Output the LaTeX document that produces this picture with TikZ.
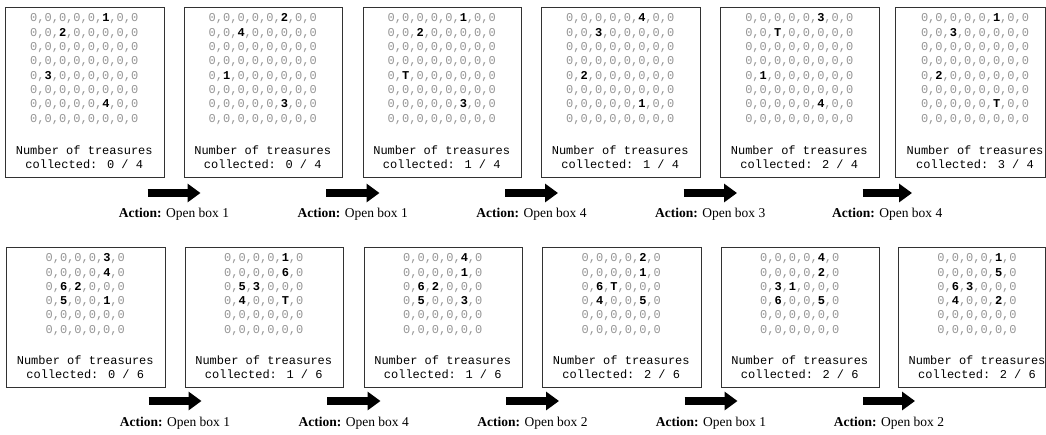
\documentclass[tikz,border=0pt]{standalone}
\usepackage{fontspec}
\setmainfont{Liberation Serif}
\newfontfamily\monofnt{Liberation Mono}
\usetikzlibrary{arrows.meta,calc}
\definecolor{zerogray}{RGB}{150,150,150}
\definecolor{boxline}{RGB}{50,50,50}
\newcommand{\Bx}[1]{{\color{black}\bfseries #1}}
\newcommand{\ZrT}{0,0,0,0,0,0,0,0}
\newcommand{\ZrB}{0,0,0,0,0,0}
\newcommand{\TopGrid}[4]{0,0,0,0,0,\Bx{#1},0,0\\0,0,\Bx{#2},0,0,0,0,0\\\ZrT\\\ZrT\\0,\Bx{#3},0,0,0,0,0,0\\\ZrT\\0,0,0,0,0,\Bx{#4},0,0\\\ZrT}
\newcommand{\BotGrid}[6]{0,0,0,0,\Bx{#1},0\\0,0,0,0,\Bx{#2},0\\0,\Bx{#3},\Bx{#4},0,0,0\\0,\Bx{#5},0,0,\Bx{#6},0\\\ZrB\\\ZrB}
\newcommand{\Cnt}[2]{Number of treasures\\collected: #1 / #2}
\newcommand{\Act}[1]{\textbf{Action:} Open box #1}
\tikzset{
  panel/.style={draw=boxline, line width=1pt, inner sep=0pt, anchor=north west, minimum height=#1},
  toppanel/.style={panel=170pt, minimum width=158.5pt},
  botpanel/.style={panel=140pt, minimum width=158.5pt},
  gridtxt/.style={font=\monofnt\fontsize{12}{14.3}\selectfont, text=zerogray, align=center, inner sep=0pt},
  counttxt/.style={font=\monofnt\fontsize{12}{13.6}\selectfont, text=black, align=center, inner sep=0pt},
  flow/.style={line width=8pt, -{Triangle[length=13pt,width=18pt]}},
  actlabel/.style={font=\fontsize{13.5}{16}\selectfont, inner sep=0pt}
}
\begin{document}
\begin{tikzpicture}[x=1pt,y=1pt]
\useasboundingbox[fill=white] (0,0) rectangle (1046,-434);

% ---------- top row ----------
\node[toppanel] (t1) at (5,-7) {};
\node[toppanel] (t2) at (183.5,-7) {};
\node[toppanel] (t3) at (362.5,-7) {};
\node[toppanel] (t4) at (541,-7) {};
\node[toppanel] (t5) at (720,-7) {};
\node[toppanel, minimum width=150pt] (t6) at (895,-7) {};

\node[gridtxt] (tg1) at (84.25,-69) {\TopGrid{1}{2}{3}{4}};
\node[gridtxt] (tg2) at (262.75,-69) {\TopGrid{2}{4}{1}{3}};
\node[gridtxt] (tg3) at (441.75,-69) {\TopGrid{1}{2}{T}{3}};
\node[gridtxt] (tg4) at (620.25,-69) {\TopGrid{4}{3}{2}{1}};
\node[gridtxt] (tg5) at (799.25,-69) {\TopGrid{3}{T}{1}{4}};
\node[gridtxt] (tg6) at (975,-69) {\TopGrid{1}{3}{2}{T}};

\node[counttxt] (tc1) at (84.25,-157.5) {\Cnt{0}{4}};
\node[counttxt] (tc2) at (262.75,-157.5) {\Cnt{0}{4}};
\node[counttxt] (tc3) at (441.75,-157.5) {\Cnt{1}{4}};
\node[counttxt] (tc4) at (620.25,-157.5) {\Cnt{1}{4}};
\node[counttxt] (tc5) at (799.25,-157.5) {\Cnt{2}{4}};
\node[counttxt] (tc6) at (975,-157.5) {\Cnt{3}{4}};

\foreach \i/\j in {1/2,2/3,3/4,4/5,5/6}{
  \coordinate (ta\i s) at ($(t\i.south east)+(-17,-15)$);
  \coordinate (ta\i e) at ($(t\j.south west)+(17,-15)$);
  \draw[flow] (ta\i s) -- (ta\i e);
}
\node[actlabel] (tl1) at ($(ta1s)!0.5!(ta1e)+(0,-21)$) {\Act{1}};
\node[actlabel] (tl2) at ($(ta2s)!0.5!(ta2e)+(0,-21)$) {\Act{1}};
\node[actlabel] (tl3) at ($(ta3s)!0.5!(ta3e)+(0,-21)$) {\Act{4}};
\node[actlabel] (tl4) at ($(ta4s)!0.5!(ta4e)+(0,-21)$) {\Act{3}};
\node[actlabel] (tl5) at ($(ta5s)!0.5!(ta5e)+(0,-21)$) {\Act{4}};

% ---------- bottom row ----------
\node[botpanel] (b1) at (6,-247) {};
\node[botpanel] (b2) at (184.5,-247) {};
\node[botpanel] (b3) at (363.5,-247) {};
\node[botpanel] (b4) at (542,-247) {};
\node[botpanel] (b5) at (720.5,-247) {};
\node[botpanel, minimum width=147pt] (b6) at (898,-247) {};

\node[gridtxt] (bg1) at (85.25,-294.5) {\BotGrid{3}{4}{6}{2}{5}{1}};
\node[gridtxt] (bg2) at (263.75,-294.5) {\BotGrid{1}{6}{5}{3}{4}{T}};
\node[gridtxt] (bg3) at (442.75,-294.5) {\BotGrid{4}{1}{6}{2}{5}{3}};
\node[gridtxt] (bg4) at (621.25,-294.5) {\BotGrid{2}{1}{6}{T}{4}{5}};
\node[gridtxt] (bg5) at (799.75,-294.5) {\BotGrid{4}{2}{3}{1}{6}{5}};
\node[gridtxt] (bg6) at (977,-294.5) {\BotGrid{1}{5}{6}{3}{4}{2}};

\node[counttxt] (bc1) at (85.25,-367) {\Cnt{0}{6}};
\node[counttxt] (bc2) at (263.75,-367) {\Cnt{1}{6}};
\node[counttxt] (bc3) at (442.75,-367) {\Cnt{1}{6}};
\node[counttxt] (bc4) at (621.25,-367) {\Cnt{2}{6}};
\node[counttxt] (bc5) at (799.75,-367) {\Cnt{2}{6}};
\node[counttxt] (bc6) at (977,-367) {\Cnt{2}{6}};

\foreach \i/\j in {1/2,2/3,3/4,4/5,5/6}{
  \coordinate (ba\i s) at ($(b\i.south east)+(-17,-13)$);
  \coordinate (ba\i e) at ($(b\j.south west)+(17,-13)$);
  \draw[flow] (ba\i s) -- (ba\i e);
}
\node[actlabel] (bl1) at ($(ba1s)!0.5!(ba1e)+(0,-22)$) {\Act{1}};
\node[actlabel] (bl2) at ($(ba2s)!0.5!(ba2e)+(0,-22)$) {\Act{4}};
\node[actlabel] (bl3) at ($(ba3s)!0.5!(ba3e)+(0,-22)$) {\Act{2}};
\node[actlabel] (bl4) at ($(ba4s)!0.5!(ba4e)+(0,-22)$) {\Act{1}};
\node[actlabel] (bl5) at ($(ba5s)!0.5!(ba5e)+(0,-22)$) {\Act{2}};
\end{tikzpicture}
\end{document}
